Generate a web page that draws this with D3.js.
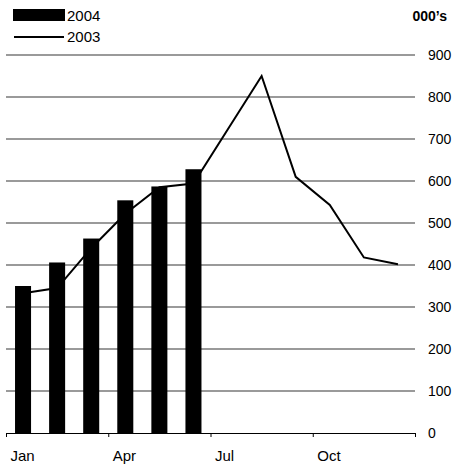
<!DOCTYPE html>
<html>
<head>
<meta charset="utf-8">
<script src="https://cdn.jsdelivr.net/npm/d3@7"></script>
<style>
  html, body { margin: 0; padding: 0; background: #fff; }
  svg { display: block; font-family: "Liberation Sans", Arial, Helvetica, sans-serif; }
</style>
</head>
<body>
<svg id="chart" width="455" height="466"></svg>
<script>
const months = ["Jan","Feb","Mar","Apr","May","Jun","Jul","Aug","Sep","Oct","Nov","Dec"];
const values2004 = [350, 406, 463, 554, 587, 628];
const values2003 = [333, 345, 440, 522, 585, 594, 722, 850, 610, 543, 418, 402];
const quarterLabels = ["Jan", "Apr", "Jul", "Oct"];
const yTicks = [0, 100, 200, 300, 400, 500, 600, 700, 800, 900];
const unitLabel = "000\u2019s";
const seriesNames = ["2004", "2003"];

(function () {
const svg = d3.select("#chart");
const pLeft = 6, pRight = 415, pTop = 55, pBottom = 433;

const x = d3.scaleBand().domain(months).range([pLeft, pRight]).paddingInner(0.53).paddingOuter(0.265);
const y = d3.scaleLinear().domain([0, 900]).range([pBottom, pTop]);
const step = x.step();

// gridlines
svg.append("g").selectAll("line")
  .data(yTicks.filter(d => d > 0))
  .join("line")
  .attr("x1", pLeft).attr("x2", pRight)
  .attr("y1", d => y(d)).attr("y2", d => y(d))
  .attr("stroke", "#9a9a9a").attr("stroke-width", 2);

// y labels
const yAxis = d3.axisRight(y).tickValues(yTicks).tickSize(0).tickPadding(0).tickFormat(d3.format("d"));
const yg = svg.append("g").attr("transform", "translate(428,0)").call(yAxis);
yg.select(".domain").remove();
yg.selectAll("text").attr("font-size", 14).attr("fill", "#000").attr("font-family", "Liberation Sans, Arial, sans-serif");

// unit label
svg.append("text").attr("x", 447).attr("y", 21).attr("text-anchor", "end")
  .attr("font-size", 14).attr("font-weight", "bold").text(unitLabel);

// 2003 line (behind bars)
const line = d3.line()
  .x((d, i) => x(months[i]) + x.bandwidth() / 2)
  .y(d => y(d));
svg.append("path").datum(values2003)
  .attr("d", line).attr("fill", "none")
  .attr("stroke", "#000").attr("stroke-width", 2).attr("stroke-linejoin", "miter");

// 2004 bars
svg.append("g").selectAll("rect")
  .data(values2004)
  .join("rect")
  .attr("x", (d, i) => x(months[i]))
  .attr("width", x.bandwidth())
  .attr("y", d => y(d))
  .attr("height", d => y(0) - y(d))
  .attr("fill", "#000");

// x axis
svg.append("line").attr("x1", pLeft).attr("x2", pRight + 1)
  .attr("y1", pBottom + 0.5).attr("y2", pBottom + 0.5)
  .attr("stroke", "#000").attr("stroke-width", 1);
const tickIdx = [0, 3, 6, 9, 12];
svg.append("g").selectAll("line")
  .data(tickIdx).join("line")
  .attr("x1", i => pLeft + i * step + 0.5).attr("x2", i => pLeft + i * step + 0.5)
  .attr("y1", pBottom).attr("y2", pBottom + 4)
  .attr("stroke", "#000").attr("stroke-width", 1);
svg.append("g").selectAll("text")
  .data(quarterLabels).join("text")
  .attr("x", (d, i) => pLeft + i * 3 * step + 4.5)
  .attr("y", 461)
  .attr("font-size", 15)
  .text(d => d);

// legend
svg.append("rect").attr("x", 13).attr("y", 9).attr("width", 52).attr("height", 12).attr("fill", "#000");
svg.append("text").attr("x", 67).attr("y", 21).attr("font-size", 15).text(seriesNames[0]);
svg.append("line").attr("x1", 14).attr("x2", 64).attr("y1", 37).attr("y2", 37)
  .attr("stroke", "#000").attr("stroke-width", 2);
svg.append("text").attr("x", 67).attr("y", 42).attr("font-size", 15).text(seriesNames[1]);
})();
</script>
</body>
</html>
